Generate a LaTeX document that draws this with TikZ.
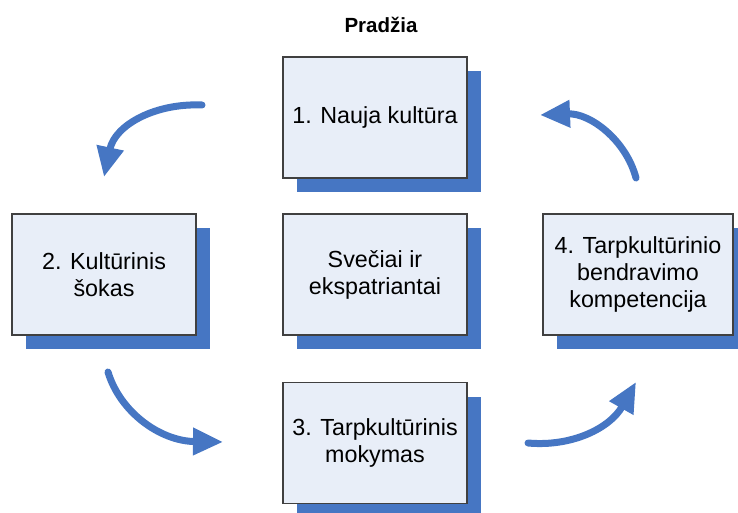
\documentclass[tikz,border=0pt]{standalone}
\usepackage{fontspec}
\setmainfont{Liberation Sans}
\usetikzlibrary{arrows.meta,shadows}

\definecolor{stageblue}{RGB}{70,118,195}
\definecolor{stagefill}{RGB}{232,238,248}
\definecolor{stageline}{RGB}{64,64,64}

\tikzset{
  stagebox/.style={rectangle,draw=stageline,line width=1.3pt,fill=stagefill,
    minimum width=184pt,minimum height=121pt,inner sep=0pt,align=center,
    font=\fontsize{23.3}{27}\selectfont,
    general shadow={fill=stageblue,shadow xshift=14pt,shadow yshift=-14pt}},
  cyclearrow/.style={draw=stageblue,line width=7pt,line cap=round,
    -{Triangle[width=26pt,length=30pt]}}
}

\begin{document}
\begin{tikzpicture}[x=1pt,y=-1pt]
  \useasboundingbox (0,0) rectangle (738,513);
  \node[anchor=base,font=\fontsize{20.5}{24}\selectfont\bfseries] (start) at (381,33) {Pradžia};
  \node[stagebox] (culture) at (375,117.5) {1. Nauja kultūra};
  \node[stagebox] (shock) at (104,274.5) {2. Kultūrinis\\šokas};
  \node[stagebox] (guests) at (375,274.5) {Svečiai ir\\ekspatriantai};
  \node[stagebox,minimum width=190pt] (competence) at (638,274.5) {4. Tarpkultūrinio\\bendravimo\\kompetencija};
  \node[stagebox] (training) at (375,443) {3. Tarpkultūrinis\\mokymas};
  % arrow ends
  \coordinate (a1s) at (202,105);
  \coordinate (a1e) at (104,177);
  \coordinate (a2s) at (108,372);
  \coordinate (a2e) at (223,442);
  \coordinate (a3s) at (528,443);
  \coordinate (a3e) at (636,382);
  \coordinate (a4s) at (636,178);
  \coordinate (a4e) at (540,115);
  \draw[cyclearrow] (a1s) .. controls (155,103) and (115,125) .. (a1e);
  \draw[cyclearrow] (a2s) .. controls (120,412) and (160,441) .. (a2e);
  \draw[cyclearrow] (a3s) .. controls (572,447) and (610,428) .. (a3e);
  \draw[cyclearrow] (a4s) .. controls (626,140) and (590,113) .. (a4e);
\end{tikzpicture}
\end{document}
